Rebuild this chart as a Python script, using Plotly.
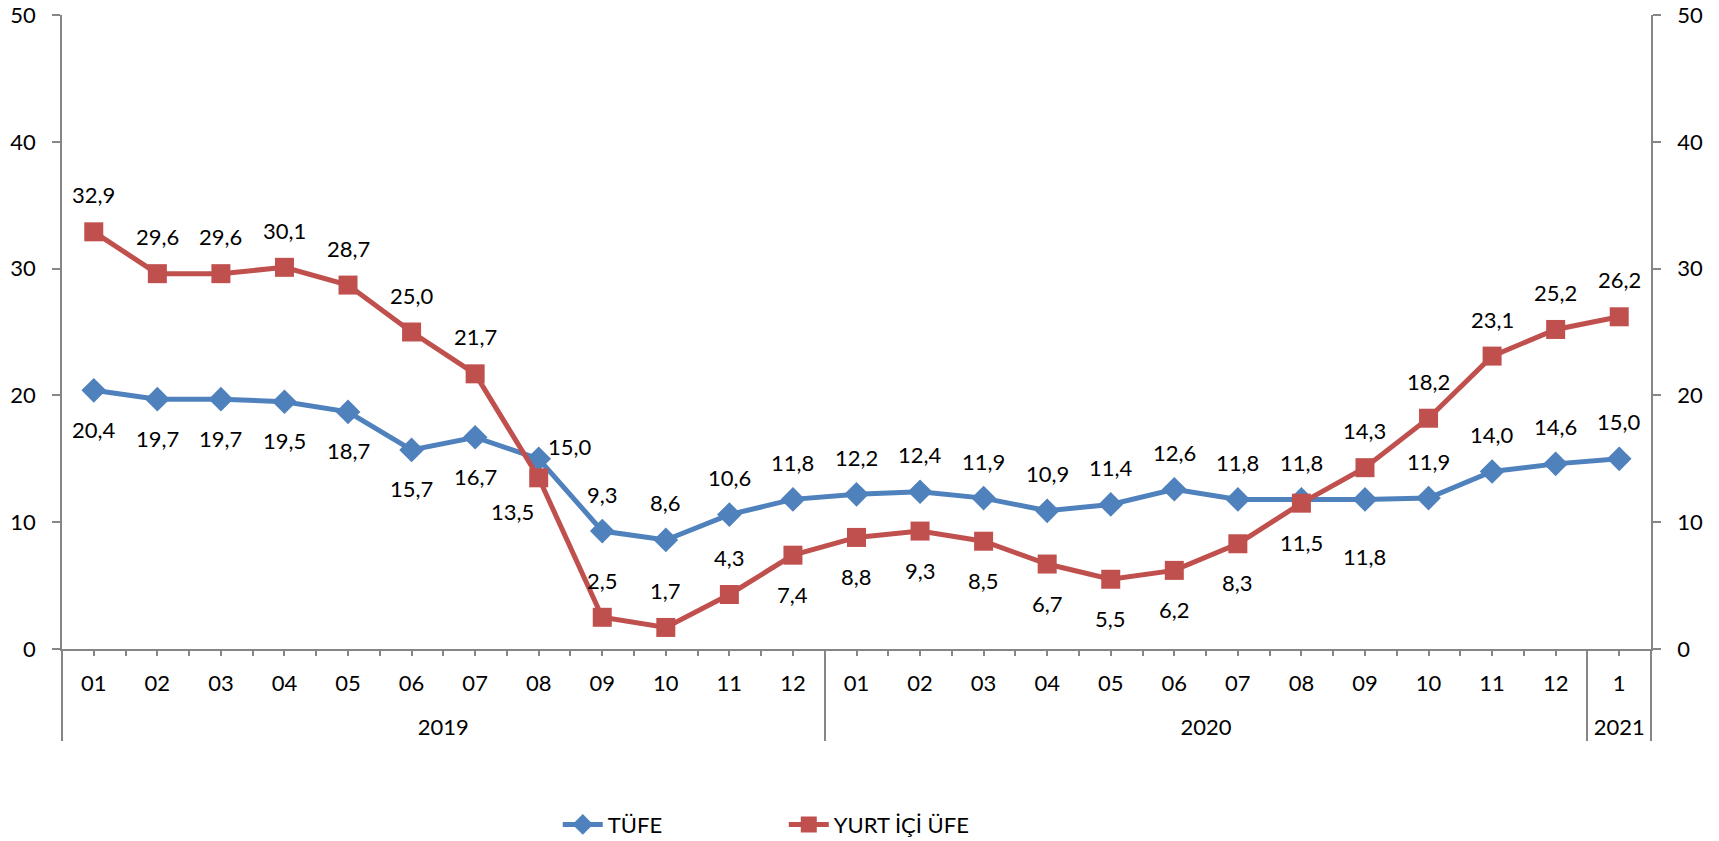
import plotly.graph_objects as go

# data
years = ["2019"] * 12 + ["2020"] * 12 + ["2021"]
months = ["01", "02", "03", "04", "05", "06", "07", "08", "09", "10", "11", "12",
          "01", "02", "03", "04", "05", "06", "07", "08", "09", "10", "11", "12",
          "1"]
tufe = [20.4, 19.7, 19.7, 19.5, 18.7, 15.7, 16.7, 15.0, 9.3, 8.6, 10.6, 11.8,
        12.2, 12.4, 11.9, 10.9, 11.4, 12.6, 11.8, 11.8, 11.8, 11.9, 14.0, 14.6,
        15.0]
ufe = [32.9, 29.6, 29.6, 30.1, 28.7, 25.0, 21.7, 13.5, 2.5, 1.7, 4.3, 7.4,
       8.8, 9.3, 8.5, 6.7, 5.5, 6.2, 8.3, 11.5, 14.3, 18.2, 23.1, 25.2,
       26.2]

BLUE = "#4F81BD"
RED = "#C0504D"
GRAY = "#868686"
FONT = "Lato"
FS = 22

# where each data label sits relative to its marker
tufe_lbl = ["b"] * 7 + ["r"] + ["a"] * 4 + ["a"] * 8 + ["bb"] + ["a"] * 4
ufe_lbl = ["a"] * 7 + ["l"] + ["a"] * 3 + ["b"] + ["b"] * 8 + ["a"] * 5
shifts = {"a": (0, 37), "b": (0, -39), "r": (31, 12), "l": (-26, -34), "bb": (0, -57)}

# year row pushed down a bit below the month row
xcat = [[f"<span style='font-size:8px'> </span><br>{y}" for y in years], months]

fig = go.Figure()
fig.add_trace(go.Scatter(
    x=xcat, y=tufe, name="TÜFE", mode="lines+markers",
    line=dict(color=BLUE, width=5),
    marker=dict(symbol="diamond", size=19, color=BLUE)))
fig.add_trace(go.Scatter(
    x=xcat, y=ufe, name="YURT İÇİ ÜFE", mode="lines+markers",
    line=dict(color=RED, width=5),
    marker=dict(symbol="square", size=19, color=RED)))
# invisible helpers so the right axis and the small ticks get drawn
fig.add_trace(go.Scatter(x=xcat, y=ufe, yaxis="y2", opacity=0, mode="lines",
                         showlegend=False, hoverinfo="skip"))
fig.add_trace(go.Scatter(x=list(range(len(months))), y=ufe, xaxis="x3",
                         opacity=0, mode="lines", showlegend=False,
                         hoverinfo="skip"))

annots = []
for vals, pos in [(tufe, tufe_lbl), (ufe, ufe_lbl)]:
    for i, v in enumerate(vals):
        dx, dy = shifts[pos[i]]
        annots.append(dict(
            x=i, y=v, xref="x", yref="y", text=f"{v:.1f}".replace(".", ","),
            showarrow=False, xshift=dx, yshift=dy,
            font=dict(family=FONT, size=FS, color="black")))

yax = dict(range=[0, 50], dtick=10, showgrid=False, zeroline=False,
           showline=True, linecolor=GRAY, linewidth=1.5,
           ticks="outside", ticklen=8, tickcolor=GRAY, tickwidth=1.5,
           ticklabelstandoff=12, ticklabeloverflow="allow",
           tickfont=dict(family=FONT, size=FS, color="black"))

fig.update_layout(
    width=1719, height=841,
    margin=dict(l=62, r=68, t=15, b=192, autoexpand=False),
    paper_bgcolor="white", plot_bgcolor="white",
    annotations=annots,
    showlegend=True,
    legend=dict(orientation="h", x=0.312, xanchor="left", y=-0.277,
                yanchor="middle", entrywidth=171, entrywidthmode="pixels",
                font=dict(family=FONT, size=FS, color="black"),
                itemwidth=40),
    xaxis=dict(type="multicategory", range=[-0.5, 24.5], showgrid=False,
               showline=True, linecolor=GRAY, linewidth=2, ticks="",
               dividercolor=GRAY, dividerwidth=1.5, ticklabelstandoff=14,
               tickfont=dict(family=FONT, size=FS, color="black")),
    xaxis3=dict(overlaying="x", anchor="y", side="bottom", range=[-0.5, 24.5],
                tick0=-0.5, dtick=0.5, ticks="outside", ticklen=6,
                tickcolor=GRAY, tickwidth=1.5, showticklabels=False,
                showgrid=False, zeroline=False, showline=False),
    yaxis=yax,
    yaxis2=dict(yax, overlaying="y", side="right", anchor="x"),
)

fig.write_html("out.html", config={"displayModeBar": False},
               post_script="document.body.style.margin='0px';")
